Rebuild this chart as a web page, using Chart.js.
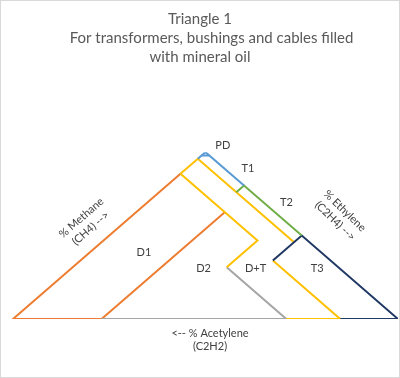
<!DOCTYPE html>
<html>
<head>
<meta charset="utf-8">
<script src="https://cdn.jsdelivr.net/npm/chart.js@4"></script>
<style>
  html, body { margin: 0; padding: 0; background: #fff; }
  #chart { display: block; }
</style>
</head>
<body>
<canvas id="chart" width="400" height="378"></canvas>
<script>
// Zone boundaries of Duval triangle 1, each point as [CH4 %, C2H4 %, C2H2 %]
const d1Border = [[64, 23, 13], [0, 23, 77], [0, 0, 100], [87, 0, 13]];
const d2Border = [[87, 0, 13], [47, 40, 13], [31, 40, 29]];
const dtBase = [[31, 40, 29], [0, 71, 29], [0, 23, 77]];
const dtTop = [[87, 0, 13], [96, 0, 4], [46, 50, 4]];
const t3Left = [[35, 50, 15], [0, 85, 15], [0, 71, 29]];
const t3Border = [[35, 50, 15], [50, 50, 0], [0, 100, 0], [0, 85, 15]];
const t2Border = [[76, 20, 4], [80, 20, 0], [50, 50, 0]];
const pdBorder = [[96, 0, 4], [100, 0, 0], [80, 20, 0]];
const pdCut = [[98, 0, 2], [98, 2, 0]];

// zone names and where they sit, as [CH4 %, C2H4 %]
const zoneNames = ['PD', 'T1', 'T2', 'D1', 'D2', 'D+T', 'T3'];
const zoneSpots = [[104, 2.5], [90, 16], [70, 36], [40, 14], [30, 34.5], [30, 48], [30, 64]];

const titleLines = ['Triangle 1', '      For transformers, bushings and cables filled', 'with mineral oil'];

// triangle coordinates: x = C2H4 + CH4/2, y = CH4
function toXY(p) {
    return { x: p[1] + p[0] / 2, y: p[0] };
}

function line(pts, color) {
    return {
        data: pts.map(toXY),
        showLine: true,
        borderColor: color,
        borderWidth: 2,
        pointRadius: 0,
        fill: false,
        tension: 0
    };
}

// axis captions and zone names drawn on top of the plot
const textPlugin = {
    id: 'triangleText',
    afterDraw(chart) {
        const ctx = chart.ctx;
        const xs = chart.scales.x;
        const ys = chart.scales.y;
        ctx.save();
        ctx.fillStyle = '#404040';
        ctx.textAlign = 'center';
        ctx.textBaseline = 'middle';
        ctx.font = '11px Lato, "Liberation Sans", sans-serif';
        zoneNames.forEach((name, i) => {
            const p = toXY(zoneSpots[i]);
            ctx.fillText(name, xs.getPixelForValue(p.x), ys.getPixelForValue(p.y));
        });

        // % Methane along the left side
        ctx.save();
        ctx.translate(86, 223);
        ctx.rotate(-41 * Math.PI / 180);
        ctx.fillText('% Methane', 0, -7);
        ctx.fillText('(CH4) -->', 0, 7);
        ctx.restore();

        // % Ethylene along the right side
        ctx.save();
        ctx.translate(340, 216);
        ctx.rotate(44 * Math.PI / 180);
        ctx.fillText('% Ethylene', 0, -7);
        ctx.fillText('(C2H4) -->', 0, 7);
        ctx.restore();

        // % Acetylene under the base
        ctx.fillText('<-- % Acetylene', 210, 333);
        ctx.fillText('(C2H2)', 210, 346);

        // chart border
        ctx.strokeStyle = '#d9d9d9';
        ctx.lineWidth = 1;
        ctx.strokeRect(0.5, 0.5, chart.width - 1, chart.height - 1);
        ctx.restore();
    }
};

const ctx = document.getElementById('chart').getContext('2d');
new Chart(ctx, {
    type: 'scatter',
    data: {
        datasets: [
            line(pdCut, '#5b9bd5'),
            line(pdBorder, '#5b9bd5'),
            line(t2Border, '#70ad47'),
            line(t3Border, '#203864'),
            line(t3Left, '#ffc000'),
            line(dtTop, '#ffc000'),
            line(d2Border, '#ffc000'),
            line(dtBase, '#a5a5a5'),
            line(d1Border, '#ed7d31')
        ]
    },
    options: {
        responsive: false,
        animation: false,
        layout: { padding: { left: 2, right: 2, top: 0, bottom: 59 } },
        scales: {
            x: { type: 'linear', min: -2.86, max: 100, display: false },
            y: { type: 'linear', min: 0, max: 100, display: false }
        },
        plugins: {
            legend: { display: false },
            tooltip: { enabled: false },
            title: {
                display: true,
                text: titleLines,
                color: '#595959',
                font: { family: 'Lato, "Liberation Sans", sans-serif', size: 15, weight: 'normal', lineHeight: 1.27 },
                padding: { top: 10, bottom: 85 }
            }
        }
    },
    plugins: [textPlugin]
});
</script>
</body>
</html>
